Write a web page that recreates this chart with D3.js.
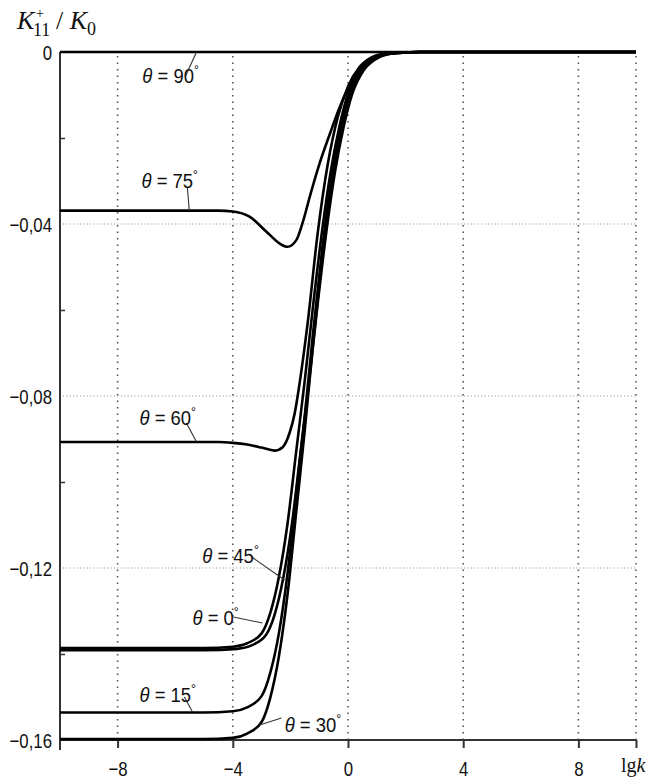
<!DOCTYPE html>
<html>
<head>
<meta charset="utf-8">
<script src="https://cdn.jsdelivr.net/npm/d3@7"></script>
<style>
  body { margin: 0; background: #fff; }
  svg { display: block; }
  .tickText { font-family: "Liberation Sans", Arial, sans-serif; font-size: 21px; fill: #111; }
  .lbl { font-family: "Liberation Sans", Arial, sans-serif; font-size: 21px; fill: #111; }
  .ttl { font-family: "Liberation Serif", "DejaVu Serif", serif; fill: #111; }
</style>
</head>
<body>
<script>
// Curves K11+/K0 versus lgk, one array of [lgk, value] per angle theta
var curve0 = [[-10, -0.1386], [-5, -0.1386], [-4.0, -0.1383], [-3.5, -0.1375], [-3.0, -0.1352], [-2.7, -0.1305],
  [-2.4, -0.1221], [-2.1, -0.1097], [-1.8, -0.0930], [-1.5, -0.0763], [-1.2, -0.0583], [-0.9, -0.0416],
  [-0.6, -0.0278], [-0.3, -0.0174], [0, -0.0097], [0.4, -0.0042], [0.8, -0.0017], [1.2, -0.0006],
  [1.8, -0.0001], [2.5, 0], [10, 0]];
var curve15 = [[-10, -0.1536], [-5, -0.1536], [-4.0, -0.1533], [-3.5, -0.1524], [-3.0, -0.1498], [-2.7, -0.1444],
  [-2.4, -0.1352], [-2.1, -0.1213], [-1.8, -0.1029], [-1.5, -0.0845], [-1.2, -0.0645], [-0.9, -0.0461],
  [-0.6, -0.0307], [-0.3, -0.0192], [0, -0.0108], [0.4, -0.0046], [0.8, -0.0018], [1.2, -0.0006],
  [1.8, -0.0002], [2.5, 0], [10, 0]];
var curve30 = [[-10, -0.1598], [-5, -0.1598], [-4.0, -0.1595], [-3.5, -0.1585], [-3.0, -0.1558], [-2.7, -0.1502],
  [-2.4, -0.1406], [-2.1, -0.1262], [-1.8, -0.1071], [-1.5, -0.0879], [-1.2, -0.0671], [-0.9, -0.0479],
  [-0.6, -0.0320], [-0.3, -0.0200], [0, -0.0112], [0.4, -0.0048], [0.8, -0.0019], [1.2, -0.0006],
  [1.8, -0.0002], [2.5, 0], [10, 0]];
var curve45 = [[-10, -0.1391], [-5, -0.1391], [-3.85, -0.1388], [-3.35, -0.1380], [-2.85, -0.1356], [-2.55, -0.1309],
  [-2.25, -0.1224], [-1.95, -0.1099], [-1.65, -0.0932], [-1.35, -0.0765], [-1.05, -0.0584], [-0.75, -0.0417],
  [-0.45, -0.0278], [-0.15, -0.0174], [0.15, -0.0097], [0.55, -0.0042], [0.95, -0.0017], [1.35, -0.0006],
  [1.95, -0.0001], [2.6, 0], [10, 0]];
var curve60 = [[-10, -0.0907], [-4.5, -0.0907], [-4.0, -0.0909], [-3.5, -0.0913], [-3.0, -0.0920], [-2.55, -0.0927],
  [-2.27, -0.0919], [-2.03, -0.0886], [-1.85, -0.0840], [-1.68, -0.0770], [-1.4, -0.0630], [-1.05, -0.0420],
  [-0.7, -0.0260], [-0.35, -0.0150], [0, -0.0080], [0.4, -0.0035], [0.8, -0.0013], [1.2, -0.0004],
  [1.8, -0.0001], [2.5, 0], [10, 0]];
var curve75 = [[-10, -0.0369], [-4.5, -0.0369], [-4.0, -0.0371], [-3.42, -0.0383], [-2.83, -0.0418], [-2.38, -0.0445],
  [-2.10, -0.0453], [-1.79, -0.0437], [-1.58, -0.0398], [-1.3, -0.0330], [-1.0, -0.0262], [-0.6, -0.0185],
  [-0.3, -0.0130], [0, -0.0085], [0.4, -0.0042], [0.8, -0.0017], [1.2, -0.0006], [1.8, -0.0001],
  [2.5, 0], [10, 0]];
var curve90 = [[-10, 0], [10, 0]];

var angles = [0, 15, 30, 45, 60, 75, 90];
var curves = [curve0, curve15, curve30, curve45, curve60, curve75, curve90];

var xTicks = [-8, -4, 0, 4, 8, 10];
var xGrid = [-8, -4, 0, 4, 8, 10];
var yMajor = [0, -0.04, -0.08, -0.12, -0.16];
var yMinor = [-0.02, -0.06, -0.10, -0.14];
var yGrid = [-0.04, -0.08, -0.12];

// label placement for each angle, in data units: text anchor and leader line
var labelPos = [
  { angle: 0,  at: [-5.40, -0.1333], from: [-3.98, -0.1314], to: [-2.97, -0.1328] },
  { angle: 15, at: [-7.24, -0.1512], from: [-5.68, -0.1500], to: [-5.40, -0.1535] },
  { angle: 30, at: [-2.20, -0.1581], from: [-2.31, -0.1549], to: [-3.07, -0.1565] },
  { angle: 45, at: [-5.06, -0.1188], from: [-3.35, -0.1174], to: [-2.20, -0.1228] },
  { angle: 60, at: [-7.24, -0.0867], from: [-5.61, -0.0863], to: [-5.26, -0.0907] },
  { angle: 75, at: [-7.17, -0.0316], from: [-5.58, -0.0314], to: [-5.51, -0.0369] },
  { angle: 90, at: [-7.14, -0.0072], from: [-5.64, -0.0056], to: [-5.26, 0] }
];

var svgWidth = 652, svgHeight = 782;
var margin = { top: 52, right: 16, bottom: 42, left: 60 };
var chartWidth = svgWidth - margin.left - margin.right;
var chartHeight = svgHeight - margin.top - margin.bottom;
var narrow = 0.8;     // horizontal squeeze for tick labels, the reference uses a condensed face
var lblNarrow = 0.88; // same for the theta labels

var svg = d3.select("body").append("svg")
  .attr("width", svgWidth)
  .attr("height", svgHeight);

var chartGroup = svg.append("g")
  .attr("transform", `translate(${margin.left}, ${margin.top})`);

var xScale = d3.scaleLinear().domain([-10, 10]).range([0, chartWidth]);
var yScale = d3.scaleLinear().domain([-0.16, 0]).range([chartHeight, 0]);

// grid
chartGroup.selectAll(".vgrid")
  .data(xGrid)
  .enter()
  .append("line")
  .attr("x1", d => xScale(d)).attr("x2", d => xScale(d))
  .attr("y1", 4).attr("y2", chartHeight)
  .attr("stroke", "#555")
  .attr("stroke-width", 1.6)
  .attr("stroke-dasharray", "1.6,4.9");

chartGroup.selectAll(".hgrid")
  .data(yGrid)
  .enter()
  .append("line")
  .attr("x1", 3).attr("x2", chartWidth)
  .attr("y1", d => yScale(d)).attr("y2", d => yScale(d))
  .attr("stroke", "#8a8a8a")
  .attr("stroke-width", 1)
  .attr("stroke-dasharray", "1,2.4");

// axes
var locale = d3.formatLocale({ decimal: ",", thousands: " ", grouping: [3], currency: ["", ""], minus: "\u2212" });
var yFmt = locale.format(".2f");

var yAxis = d3.axisLeft(yScale).tickValues(yMajor).tickSize(0).tickPadding(8)
  .tickFormat(d => d === 0 ? "0" : yFmt(d));
var yAxisG = chartGroup.append("g").call(yAxis);
yAxisG.select(".domain").remove();
yAxisG.selectAll("text")
  .attr("class", "tickText")
  .attr("x", -8 / narrow)
  .attr("dy", "0.36em")
  .attr("transform", `scale(${narrow},1)`);

var yMinorG = chartGroup.append("g").call(d3.axisRight(yScale).tickValues(yMinor).tickSize(5).tickFormat(""));
yMinorG.select(".domain").remove();
yMinorG.selectAll("line").attr("stroke", "#333").attr("stroke-width", 1.5);

var xAxis = d3.axisBottom(xScale).tickValues(xTicks).tickSize(8).tickPadding(8)
  .tickFormat(d => d === 10 ? "" : locale.format("d")(d));
var xAxisG = chartGroup.append("g")
  .attr("transform", `translate(0, ${chartHeight})`)
  .call(xAxis);
xAxisG.select(".domain").remove();
xAxisG.selectAll("line").attr("stroke", "#333").attr("stroke-width", 2);
xAxisG.selectAll("text")
  .attr("class", "tickText")
  .attr("dy", "0.95em")
  .attr("transform", `scale(${narrow},1)`);

// axis lines
chartGroup.append("line")
  .attr("x1", 0).attr("x2", 0).attr("y1", 0).attr("y2", chartHeight + 10)
  .attr("stroke", "#333").attr("stroke-width", 2);
chartGroup.append("line")
  .attr("x1", 0).attr("x2", chartWidth).attr("y1", chartHeight).attr("y2", chartHeight)
  .attr("stroke", "#333").attr("stroke-width", 2);

// curves
var line = d3.line()
  .x(d => xScale(d[0]))
  .y(d => yScale(d[1]))
  .curve(d3.curveMonotoneX);

chartGroup.selectAll(".curve")
  .data(curves)
  .enter()
  .append("path")
  .attr("class", "curve")
  .attr("d", line)
  .attr("fill", "none")
  .attr("stroke", "#000")
  .attr("stroke-width", 2.6);

// leader lines and labels
chartGroup.selectAll(".leader")
  .data(labelPos)
  .enter()
  .append("line")
  .attr("x1", d => xScale(d.from[0])).attr("y1", d => yScale(d.from[1]))
  .attr("x2", d => xScale(d.to[0])).attr("y2", d => yScale(d.to[1]))
  .attr("stroke", "#333")
  .attr("stroke-width", 1.1);

var labels = chartGroup.selectAll(".lbl")
  .data(labelPos)
  .enter()
  .append("text")
  .attr("class", "lbl")
  .attr("transform", d => `translate(${xScale(d.at[0])},${yScale(d.at[1])}) scale(${lblNarrow},1)`);
labels.append("tspan").style("font-style", "italic").text("\u03b8");
labels.append("tspan").text(d => " = " + d.angle);
labels.append("tspan").attr("dy", -8).style("font-size", "14px").text("\u00b0");

// y title: K with stacked +/11, then / K0
svg.append("text").attr("class", "ttl").attr("x", 17).attr("y", 29)
  .style("font-size", "26px").style("font-style", "italic").text("K");
svg.append("text").attr("class", "ttl").attr("x", 36).attr("y", 18)
  .style("font-size", "14px").text("+");
svg.append("text").attr("class", "ttl").attr("x", 33).attr("y", 36)
  .style("font-size", "18px").text("11");
var yTitle = svg.append("text").attr("class", "ttl").attr("x", 56).attr("y", 29)
  .style("font-size", "26px");
yTitle.append("tspan").text("/ ");
yTitle.append("tspan").style("font-style", "italic").text("K");
yTitle.append("tspan").attr("dy", 6).style("font-size", "18px").text("0");

var xTitle = svg.append("text").attr("class", "ttl")
  .attr("x", 621).attr("y", 772)
  .style("font-size", "20px");
xTitle.append("tspan").text("lg");
xTitle.append("tspan").style("font-style", "italic").text("k");
</script>
</body>
</html>
